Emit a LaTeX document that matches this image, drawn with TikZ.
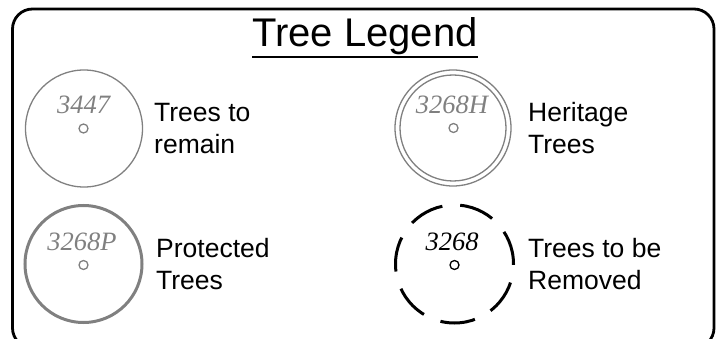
\documentclass[tikz,border=0pt]{standalone}
\usepackage{fontspec}
\setmainfont{Liberation Sans}
\newfontfamily\numfont{Liberation Serif}
\definecolor{treegray}{HTML}{808080}
\begin{document}
\begin{tikzpicture}[x=1pt,y=-1pt,
  lbl/.style={font=\fontsize{26.5}{26.5}\selectfont, inner sep=0pt, anchor=base west},
  num/.style={font=\fontsize{26.5}{26.5}\numfont\itshape, inner sep=0pt, anchor=base},
  thintree/.style={draw=treegray, line width=1.3pt},
  dot/.style={circle, draw, line width=1.3pt, minimum size=9pt, inner sep=0pt}]
\useasboundingbox (0,0) rectangle (720,339);
\clip (0,0) rectangle (720,339);
% frame
\draw[line width=2.8pt, rounded corners=20pt] (12.5,9) rectangle (714,348);
% title
\node[font=\fontsize{40}{40}\selectfont, inner sep=0pt, anchor=base] (title) at (365,46.7) {Tree Legend};
\draw[line width=2pt] ([yshift=-10pt]title.base west) -- ([yshift=-10pt]title.base east);
% trees to remain
\node[thintree, circle, minimum size=117pt] (c1) at (84,128.5) {};
\node[dot, draw=treegray] (d1) at (83.5,128.5) {};
\node[num, text=treegray] (n1) at (83.5,114) {3447};
\node[lbl] (l1a) at (154,122) {Trees to};
\node[lbl] (l1b) at (154,154) {remain};
% heritage
\node[thintree, circle, minimum size=116pt] (c2) at (453,128) {};
\node[thintree, circle, minimum size=106pt] (c2i) at (453,128) {};
\node[dot, draw=treegray] (d2) at (453.5,128) {};
\node[num, text=treegray] (n2) at (452,114) {3268H};
\node[lbl] (l2a) at (528,122) {Heritage};
\node[lbl] (l2b) at (528,154) {Trees};
% protected
\node[circle, draw=treegray, line width=3pt, minimum size=117pt] (c3) at (83.5,264) {};
\node[dot, draw=treegray] (d3) at (83.5,265) {};
\node[num, text=treegray] (n3) at (82,250) {3268P};
\node[lbl] (l3a) at (156,257) {Protected};
\node[lbl] (l3b) at (156,289) {Trees};
% removed
\node[circle, draw=black, line width=3pt, dash pattern=on 35pt off 17.96pt, dash phase=1pt, minimum size=118pt] (c4) at (454.5,264) {};
\node[dot, draw=black] (d4) at (454.5,265) {};
\node[num, text=black] (n4) at (452,250) {3268};
\node[lbl] (l4a) at (528,257) {Trees to be};
\node[lbl] (l4b) at (528,289) {Removed};
\end{tikzpicture}
\end{document}
